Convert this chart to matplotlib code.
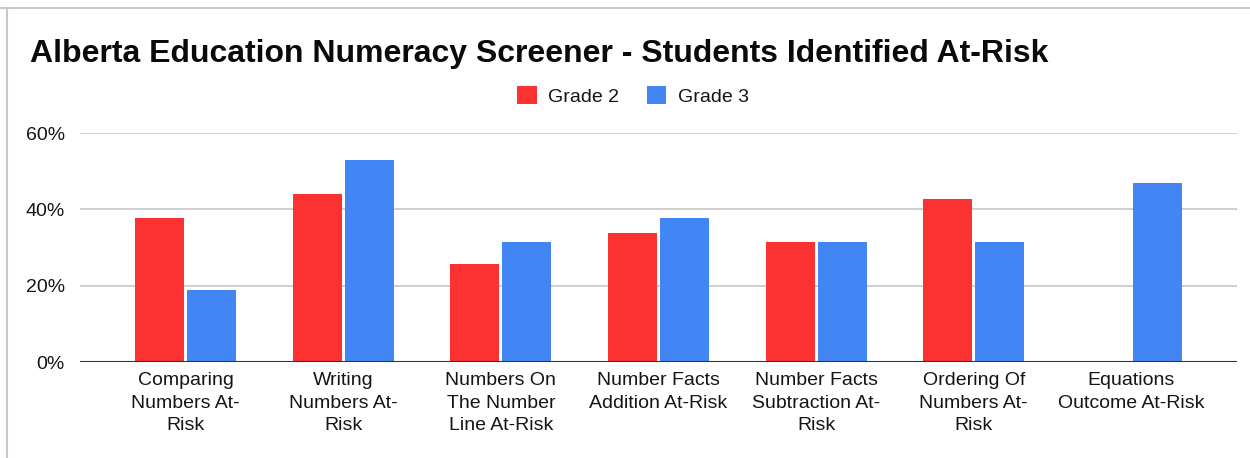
import matplotlib
matplotlib.use("Agg")
import matplotlib.pyplot as plt
import numpy as np
from matplotlib.lines import Line2D
from matplotlib.patches import Patch

# data
categories = [
    "Comparing\nNumbers At-\nRisk",
    "Writing\nNumbers At-\nRisk",
    "Numbers On\nThe Number\nLine At-Risk",
    "Number Facts\nAddition At-Risk",
    "Number Facts\nSubtraction At-\nRisk",
    "Ordering Of\nNumbers At-\nRisk",
    "Equations\nOutcome At-Risk",
]
grade2 = [37.6, 44.0, 25.6, 33.7, 31.5, 42.8, 0.0]
grade3 = [18.8, 53.0, 31.5, 37.6, 31.5, 31.5, 47.0]
series_names = ["Grade 2", "Grade 3"]
yticks = [0, 20, 40, 60]

red = "#fb3132"
blue = "#4285f4"

plt.rcParams["font.family"] = ["Liberation Sans", "DejaVu Sans"]

fig = plt.figure(figsize=(12.5, 4.58), dpi=100)
ax = fig.add_axes([0.064, 0.2096, 0.9256, 0.5])

x = np.arange(len(categories))
w = 0.311
off = 0.165
ax.bar(x - off, grade2, width=w, color=red, zorder=3)
ax.bar(x + off, grade3, width=w, color=blue, zorder=3)

ax.set_xlim(-0.5 - 0.17, len(categories) - 0.5 + 0.17)
ax.set_ylim(0, 60)
ax.set_yticks(yticks)
ax.set_yticklabels([f"{t}%" for t in yticks])
ax.set_xticks(x)
ax.set_xticklabels(categories, linespacing=1.45)
ax.tick_params(axis="both", length=0, labelsize=14, colors="#151515")
ax.tick_params(axis="y", pad=11)
ax.tick_params(axis="x", pad=7)

ax.grid(axis="y", color="#cccccc", linewidth=1.3, zorder=0)
ax.axhline(0, color="#333333", linewidth=1.5, zorder=4)
for s in ["left", "right", "top", "bottom"]:
    ax.spines[s].set_visible(False)

fig.text(0.024, 1 - 62 / 458, "Alberta Education Numeracy Screener - Students Identified At-Risk",
         fontsize=23, fontweight="bold", ha="left", va="baseline", color="#0a0a0a")

handles = [Patch(facecolor=red, edgecolor="none"), Patch(facecolor=blue, edgecolor="none")]
fig.legend(handles, series_names, loc="center", bbox_to_anchor=(633 / 1250, 1 - 96 / 458),
           ncol=2, frameon=False, fontsize=14, handlelength=1.0, handleheight=1.0,
           handletextpad=0.6, columnspacing=1.4, labelcolor="#151515")

# screenshot border lines (top and left)
fig.add_artist(Line2D([0, 1], [1 - 8 / 458, 1 - 8 / 458], color="#c8c8c8", linewidth=1.5))
fig.add_artist(Line2D([7 / 1250, 7 / 1250], [0, 1 - 8 / 458], color="#c8c8c8", linewidth=1.5))

fig.savefig("out.png", dpi=100)
